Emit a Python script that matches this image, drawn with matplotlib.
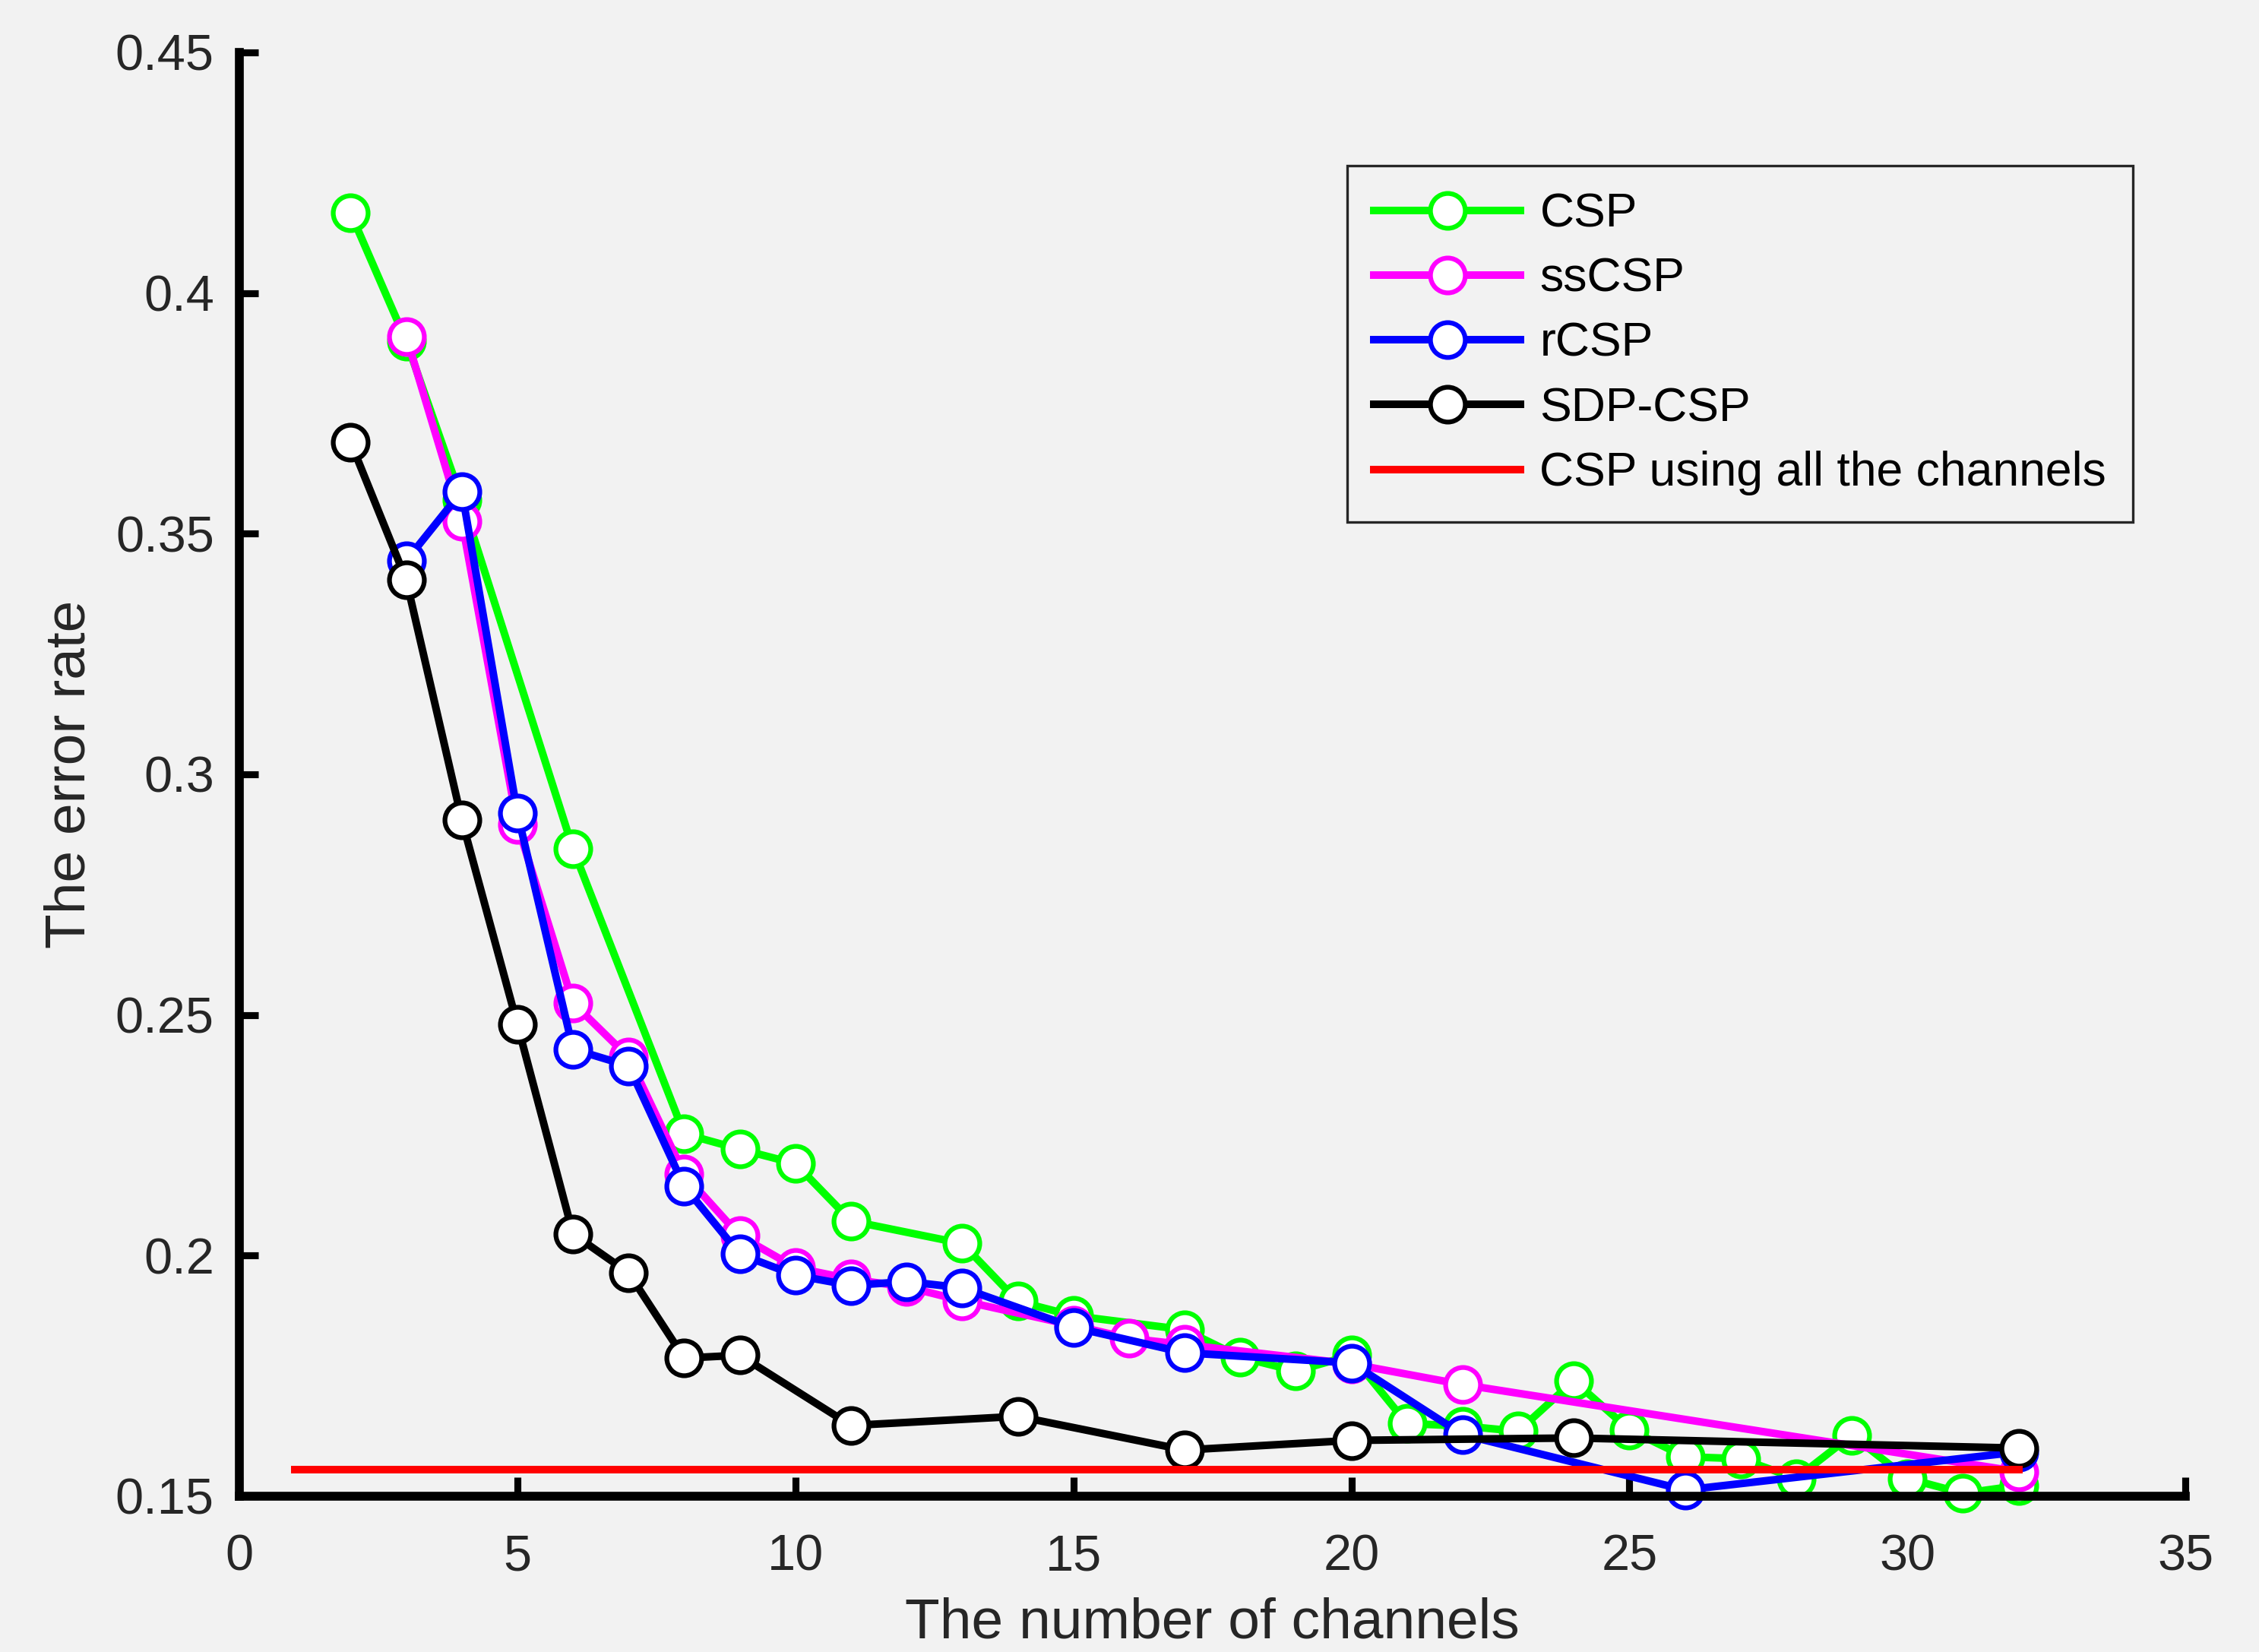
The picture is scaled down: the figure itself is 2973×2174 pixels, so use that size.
import matplotlib
matplotlib.use("Agg")
import matplotlib.pyplot as plt

plt.rcParams['font.family'] = ['Liberation Sans', 'DejaVu Sans']

# CSP
csp_x = [2, 3, 4, 6, 8, 9, 10, 11, 13, 14, 15, 17, 18, 19, 20, 21, 22, 23, 24, 25, 26, 27, 28, 29, 30, 31, 32]
csp_y = [0.4166, 0.390, 0.357, 0.2845, 0.2253, 0.2221, 0.2191, 0.2072, 0.2025, 0.1905, 0.1875, 0.1846,
         0.1789, 0.1760, 0.1793, 0.1651, 0.1646, 0.1635, 0.1740, 0.1638, 0.1582, 0.1578, 0.1537, 0.1627,
         0.1537, 0.1506, 0.1522]

# ssCSP
sscsp_x = [3, 4, 5, 6, 7, 8, 9, 10, 11, 12, 13, 15, 16, 17, 20, 22, 32]
sscsp_y = [0.391, 0.3526, 0.2895, 0.2525, 0.2412, 0.2169, 0.2041, 0.1975, 0.1951, 0.1935, 0.1906,
           0.1855, 0.1828, 0.1815, 0.1775, 0.1732, 0.1551]

# rCSP
rcsp_x = [3, 4, 5, 6, 7, 8, 9, 10, 11, 12, 13, 15, 17, 20, 22, 26, 32]
rcsp_y = [0.3444, 0.3588, 0.2919, 0.2429, 0.2394, 0.2144, 0.2003, 0.1959, 0.1938, 0.1946, 0.1933,
          0.1851, 0.1798, 0.1777, 0.1628, 0.1513, 0.1592]

# SDP-CSP
sdp_x = [2, 3, 4, 5, 6, 7, 8, 9, 11, 14, 17, 20, 24, 32]
sdp_y = [0.3690, 0.3404, 0.2905, 0.2480, 0.2045, 0.1964, 0.1787, 0.1793, 0.1647, 0.1666, 0.1596,
         0.1616, 0.1621, 0.1600]

# CSP using all the channels
all_x = [1, 32]
all_y = [0.1555, 0.1555]

bg = '#f2f2f2'
fig = plt.figure(figsize=(2973 / 300, 2174 / 300), dpi=300, facecolor=bg)
ax = fig.add_axes([0.106, 0.0943, 0.8614, 0.874], facecolor=bg)

lw = 2.4
ms = 11
mew = 1.5
series = [
    (csp_x, csp_y, '#00ff00', 'CSP'),
    (sscsp_x, sscsp_y, '#ff00ff', 'ssCSP'),
    (rcsp_x, rcsp_y, '#0000ff', 'rCSP'),
    (sdp_x, sdp_y, '#000000', 'SDP-CSP'),
]
for xs, ys, c, lab in series:
    ax.plot(xs, ys, color=c, lw=lw, marker='o', ms=ms, mew=mew, mfc='white', mec=c,
            label=lab, clip_on=False, zorder=3)
ax.plot(all_x, all_y, color='#ff0000', lw=lw, label='CSP using all the channels', zorder=4)

ax.set_xlim(0, 35)
ax.set_ylim(0.15, 0.45)
ax.set_xticks(range(0, 36, 5))
ax.set_yticks([0.15, 0.2, 0.25, 0.3, 0.35, 0.4, 0.45])
ax.set_yticklabels(['0.15', '0.2', '0.25', '0.3', '0.35', '0.4', '0.45'])

for s in ['top', 'right']:
    ax.spines[s].set_visible(False)
for s in ['left', 'bottom']:
    ax.spines[s].set_linewidth(2.8)
    ax.spines[s].set_zorder(5)
ax.tick_params(direction='in', length=6, width=2.2, labelsize=16, labelcolor='#262626')
ax.tick_params(axis='x', pad=12)
ax.tick_params(axis='y', pad=8)

ax.set_xlabel('The number of channels', fontsize=18, color='#262626', labelpad=5)
ax.set_ylabel('The error rate', fontsize=18, color='#262626', labelpad=6)

leg = ax.legend(loc='upper right', bbox_to_anchor=(0.944, 0.8997), bbox_transform=fig.transFigure,
                borderaxespad=0, fontsize=15, frameon=True, fancybox=False, edgecolor='#262626',
                facecolor=bg, framealpha=1, handlelength=3.1, labelspacing=0.42, borderpad=0.55,
                handletextpad=0.4)
leg.get_frame().set_linewidth(0.8)

fig.savefig('out.png', dpi=300, facecolor=bg)
